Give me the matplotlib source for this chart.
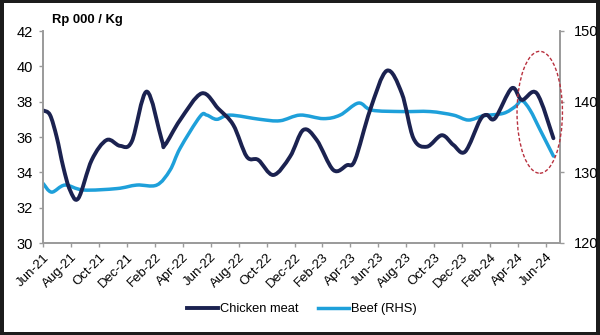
import matplotlib

matplotlib.use("Agg")
import matplotlib.pyplot as plt
import numpy as np
from matplotlib.lines import Line2D
from matplotlib.patches import Ellipse, PathPatch, Rectangle
from matplotlib.path import Path

plt.rcParams["font.family"] = ["Liberation Sans", "DejaVu Sans"]

month_labels = [
    "Jun-21", "Aug-21", "Oct-21", "Dec-21", "Feb-22", "Apr-22", "Jun-22",
    "Aug-22", "Oct-22", "Dec-22", "Feb-23", "Apr-23", "Jun-23", "Aug-23",
    "Oct-23", "Dec-23", "Feb-24", "Apr-24", "Jun-24",
]

# months since Jun-21
chicken_t = [0.02, 0.5, 0.98, 1.45, 1.93, 2.53, 3.49, 4.56, 5.51, 6.35, 7.42, 8.5, 8.73, 9.81,
             11.36, 12.55, 13.62, 14.58, 15.41, 16.49, 17.68, 18.63, 19.59, 20.78,
             21.74, 22.33, 23.41, 24.6, 25.68, 26.51, 27.47, 28.54, 29.37, 30.21,
             31.28, 31.76, 32.35, 33.55, 34.27, 35.34, 36.53]
chicken = [37.5, 37.25, 36.0, 34.3, 33.0, 32.53, 34.7, 35.83, 35.5, 35.74, 38.57, 35.83, 35.55, 36.96,
           38.47, 37.6, 36.68, 34.89, 34.7, 33.85, 34.89, 36.4, 35.83, 34.13,
           34.4, 34.7, 37.53, 39.75, 38.47, 35.93, 35.45, 36.1, 35.55, 35.17,
           36.96, 37.25, 37.06, 38.76, 38.1, 38.47, 35.93]

beef_t = [0.02, 0.62, 1.57, 2.88, 5.28, 6.71, 8.14, 9.09, 9.81, 11.24, 11.72, 12.43,
          13.39, 15.53, 16.96, 18.4, 20.06, 21.26, 22.57, 23.53, 25.68, 27.7,
          29.37, 30.44, 31.52, 32.95, 33.79, 34.27, 34.86, 35.58, 36.53]
beef = [128.4, 127.2, 128.2, 127.5, 127.7, 128.2, 128.2, 130.3, 133.4, 137.9, 138.1, 137.5,
        138.1, 137.5, 137.3, 138.1, 137.6, 138.1, 139.8, 138.8, 138.6, 138.6,
        138.1, 137.4, 138.0, 138.35, 139.3, 140.15, 138.8, 136.0, 132.3]

NAVY = "#1b2250"
SKY = "#1ea0da"
GREY = "#9a9a9a"


def smooth_path(xs, ys):
    # Excel-style smoothed line: cubic Bezier segments through every point
    p = np.column_stack([xs, ys]).astype(float)
    verts = [p[0]]
    codes = [Path.MOVETO]
    for i in range(len(p) - 1):
        prev = p[i - 1] if i > 0 else p[i]
        nxt = p[i + 2] if i + 2 < len(p) else p[i + 1]
        c1 = p[i] + (p[i + 1] - prev) / 6
        c2 = p[i + 1] - (nxt - p[i]) / 6
        verts += [c1, c2, p[i + 1]]
        codes += [Path.CURVE4] * 3
    return Path(verts, codes)


fig = plt.figure(figsize=(6.0, 3.35), dpi=100, facecolor="#1c1c1c")
fig.patches.append(Rectangle((4 / 600, 3 / 335), 592 / 600, 329 / 335,
                             transform=fig.transFigure, facecolor="white",
                             edgecolor="none", zorder=-10))

ax = fig.add_axes([43 / 600, 1 - 243 / 335, 517 / 600, 212 / 335])
ax.set_facecolor("none")
ax2 = ax.twinx()
ax.set_zorder(ax2.get_zorder() + 1)

ax2.add_patch(PathPatch(smooth_path(beef_t, beef), fill=False, edgecolor=SKY,
                        linewidth=2.5, capstyle="round", joinstyle="round"))
ax.add_patch(PathPatch(smooth_path(chicken_t, chicken), fill=False, edgecolor=NAVY,
                       linewidth=2.8, capstyle="round", joinstyle="round"))

ax.set_xlim(0, 37)
ax.set_ylim(30, 42)
ax.set_yticks(range(30, 43, 2))
ax2.set_ylim(120, 150)
ax2.set_yticks(range(120, 151, 10))
ax.set_xticks(range(0, 37, 2))
ax.set_xticklabels(month_labels, rotation=45, ha="right", rotation_mode="anchor")

for a in (ax, ax2):
    a.spines["top"].set_visible(False)
    for side in ("left", "right", "bottom"):
        a.spines[side].set_color(GREY)
        a.spines[side].set_linewidth(1.2)
    a.tick_params(axis="both", colors=GREY, labelcolor="black", direction="out",
                  length=3, width=1, labelsize=10.5)
ax.tick_params(axis="x", labelsize=9.5, pad=3)
ax.tick_params(axis="y", pad=4.5)
ax2.tick_params(axis="y", pad=7)

ax.add_patch(Ellipse((35.55, 37.4), 3.25, 6.9, fill=False, edgecolor="#b8303e",
                     linestyle=(0, (2.5, 1.5)), linewidth=1.0, zorder=4,
                     clip_on=False))

fig.text(52 / 600, 1 - 20 / 335, "Rp 000 / Kg", fontsize=9.4, fontweight="bold",
         va="center", ha="left")

handles = [Line2D([], [], color=NAVY, linewidth=2.8), Line2D([], [], color=SKY, linewidth=2.5)]
fig.legend(handles, ["Chicken meat", "Beef (RHS)"], loc="center",
           bbox_to_anchor=(302 / 600, 1 - 309 / 335), ncol=2, frameon=False,
           fontsize=9.3, handlelength=2.4, handletextpad=0.15, columnspacing=1.5)

fig.savefig("out.png", dpi=100, facecolor=fig.get_facecolor())
